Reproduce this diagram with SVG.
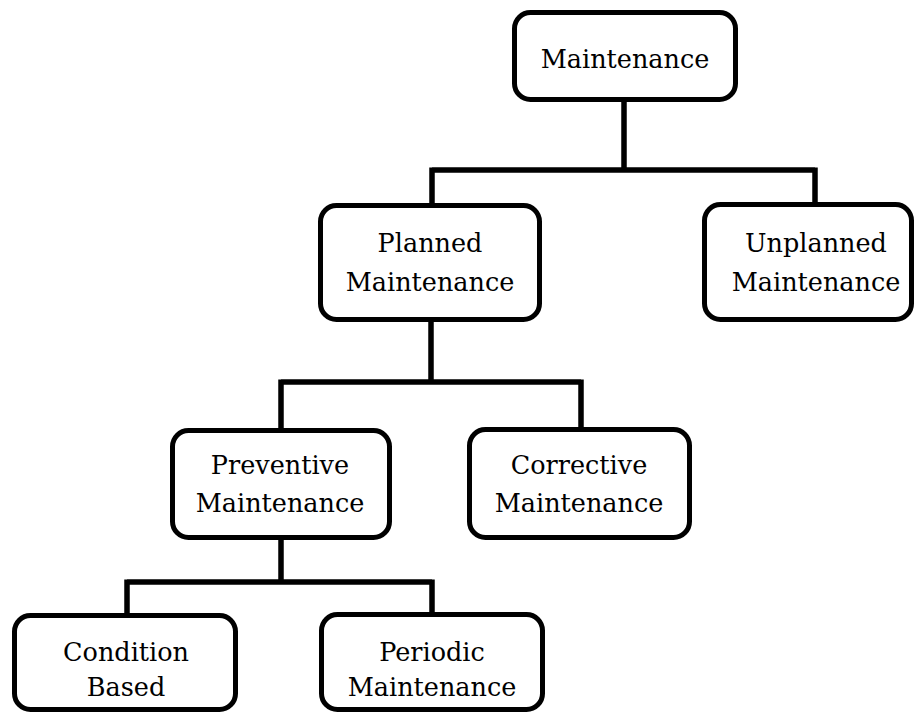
<svg xmlns="http://www.w3.org/2000/svg" width="914" height="713" viewBox="0 0 914 713">
  <style>
    .box { fill: #ffffff; stroke: #000000; stroke-width: 5; }
    .lbl { font-family: "DejaVu Serif", "Liberation Serif", serif; font-size: 25.5px; fill: #000000; text-anchor: middle; }
    .wire { fill: none; stroke: #000000; stroke-width: 5.5; stroke-linecap: butt; stroke-linejoin: miter; }
  </style>
  <rect width="914" height="713" fill="#ffffff"/>

  <!-- tree connectors -->
  <g id="connectors">
    <path class="wire" d="M624,100 V170 M432,170 H815 M432,167.5 V205 M815,167.5 V204"/>
    <path class="wire" d="M431,320 V382 M281,382 H581 M281,379.5 V430 M581,379.5 V430"/>
    <path class="wire" d="M281,538 V582 M127,582 H432 M127,579.5 V615 M432,579.5 V615"/>
  </g>

  <g id="maintenance">
    <rect class="box" x="514.5" y="12.5" width="221" height="87" rx="16"/>
    <text class="lbl" x="625" y="68">Maintenance</text>
  </g>

  <g id="planned">
    <rect class="box" x="320.5" y="205.5" width="219" height="114" rx="16"/>
    <text class="lbl" x="430" y="252">Planned</text>
    <text class="lbl" x="430" y="291">Maintenance</text>
  </g>

  <g id="unplanned">
    <rect class="box" x="704.5" y="204.5" width="207" height="115" rx="16"/>
    <text class="lbl" x="816" y="252">Unplanned</text>
    <text class="lbl" x="816" y="291">Maintenance</text>
  </g>

  <g id="preventive">
    <rect class="box" x="172.5" y="430.5" width="217" height="107" rx="16"/>
    <text class="lbl" x="280" y="474">Preventive</text>
    <text class="lbl" x="280" y="512">Maintenance</text>
  </g>

  <g id="corrective">
    <rect class="box" x="469.5" y="429.5" width="220" height="108" rx="16"/>
    <text class="lbl" x="579" y="474">Corrective</text>
    <text class="lbl" x="579" y="512">Maintenance</text>
  </g>

  <g id="condition-based">
    <rect class="box" x="14.5" y="615.5" width="221" height="94" rx="16"/>
    <text class="lbl" x="126" y="661">Condition</text>
    <text class="lbl" x="126" y="696">Based</text>
  </g>

  <g id="periodic">
    <rect class="box" x="321.5" y="614.5" width="221" height="95" rx="16"/>
    <text class="lbl" x="432" y="661">Periodic</text>
    <text class="lbl" x="432" y="696">Maintenance</text>
  </g>
</svg>
